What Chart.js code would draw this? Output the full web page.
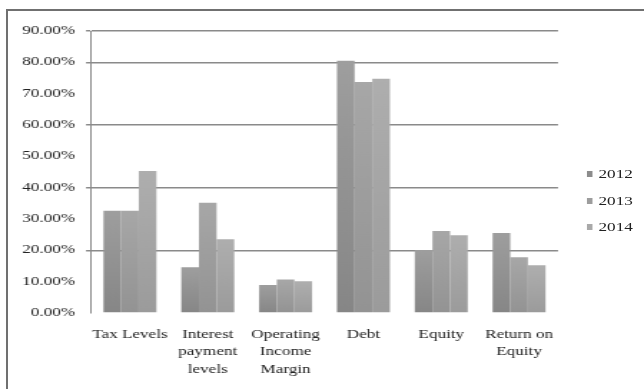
<!DOCTYPE html>
<html>
<head>
<meta charset="utf-8">
<script src="https://cdn.jsdelivr.net/npm/chart.js@4/dist/chart.umd.min.js"></script>
<style>
  html, body { margin: 0; padding: 0; background: #fff; overflow: hidden; }
  body { width: 644px; height: 389px; position: relative; }
  #frame {
    position: absolute; left: 6px; top: 9px; width: 700px; height: 450px;
    border-left: 2px solid #707070; border-top: 2px solid #707070;
  }
  /* the chart is laid out narrow and widened to the full frame */
  #stage {
    position: absolute; left: 0; top: 0; width: 450px; height: 389px;
    transform: scaleX(1.4311); transform-origin: 0 0;
  }
  #chart { position: absolute; left: 0; top: 0; }
  #legend { position: absolute; left: 410px; top: 0; font: 12px "Liberation Serif", "Times New Roman", serif; color: #222; }
  #legend .item { position: absolute; left: 0; white-space: nowrap; height: 16px; line-height: 16px; }
  #legend .box { display: inline-block; width: 4.2px; height: 6px; margin-right: 4px; vertical-align: 1px; }
</style>
</head>
<body>
<div id="frame"></div>
<div id="stage">
  <canvas id="chart" width="450" height="389" style="width:450px;height:389px"></canvas>
  <div id="legend"></div>
</div>
<script>
// Category labels (multi-line) and yearly series, in percent
const categories = [
  ['Tax Levels'],
  ['Interest', 'payment', 'levels'],
  ['Operating', 'Income', 'Margin'],
  ['Debt'],
  ['Equity'],
  ['Return on', 'Equity']
];
const years = ['2012', '2013', '2014'];
const values2012 = [32.6, 14.6, 8.9, 80.5, 20.1, 25.5];
const values2013 = [32.6, 35.2, 10.7, 73.7, 26.2, 17.8];
const values2014 = [45.3, 23.5, 10.1, 74.8, 24.8, 15.2];
const yTicks = [0, 10, 20, 30, 40, 50, 60, 70, 80, 90];
const griddedTicks = [20, 40, 60, 80, 90];

const seriesValues = [values2012, values2013, values2014];
const seriesShades = [
  { top: '#9e9e9e', bottom: '#868686', legend: '#8c8c8c' },
  { top: '#a7a7a7', bottom: '#939393', legend: '#9d9d9d' },
  { top: '#aeaeae', bottom: '#9b9b9b', legend: '#a9a9a9' }
];

// vertical shading for each bar, lighter at the top
function barShade(shade) {
  return (ctx) => {
    const chart = ctx.chart;
    const y = chart.scales && chart.scales.y;
    if (!chart.chartArea || !y || ctx.raw == null) return shade.bottom;
    const top = y.getPixelForValue(ctx.raw);
    const bottom = y.getPixelForValue(0);
    if (!isFinite(top) || !isFinite(bottom) || top === bottom) return shade.bottom;
    const g = chart.ctx.createLinearGradient(0, bottom, 0, top);
    g.addColorStop(0, shade.bottom);
    g.addColorStop(1, shade.top);
    return g;
  };
}

const serif = { family: '"Liberation Serif", "Times New Roman", serif', size: 12 };

new Chart(document.getElementById('chart'), {
  type: 'bar',
  data: {
    labels: categories,
    datasets: years.map((yr, i) => ({
      label: yr,
      data: seriesValues[i],
      backgroundColor: barShade(seriesShades[i]),
      borderWidth: 0,
      categoryPercentage: 0.68,
      barPercentage: 1.0
    }))
  },
  options: {
    responsive: false,
    animation: false,
    devicePixelRatio: 1,
    layout: { padding: { top: 31, right: 60.1, bottom: 0, left: 0 } },
    plugins: { legend: { display: false }, tooltip: { enabled: false } },
    scales: {
      x: {
        grid: { display: false },
        border: { display: false },
        ticks: {
          font: Object.assign({ lineHeight: 1.46 }, serif),
          color: '#222',
          padding: 5,
          maxRotation: 0,
          autoSkip: false
        },
        afterFit: (scale) => { scale.height = 76; }
      },
      y: {
        min: 0,
        max: 90,
        afterBuildTicks: (scale) => { scale.ticks = yTicks.map(v => ({ value: v })); },
        ticks: {
          font: serif,
          color: '#222',
          padding: 7.7,
          callback: (v) => Number(v).toFixed(2) + '%'
        },
        grid: {
          tickLength: 3.5,
          lineWidth: 1.5,
          color: (ctx) => (ctx.tick && griddedTicks.includes(ctx.tick.value)) ? '#8a8a8a' : 'rgba(0,0,0,0)'
        },
        border: { display: true, color: '#8a8a8a', width: 1 },
        afterFit: (scale) => { scale.width = 63.6; }
      }
    }
  }
});

// legend built from the same series
const legend = document.getElementById('legend');
years.forEach((yr, i) => {
  const item = document.createElement('div');
  item.className = 'item';
  item.style.top = (174 + i * 26.5 - 8) + 'px';
  const box = document.createElement('span');
  box.className = 'box';
  box.style.background = seriesShades[i].legend;
  item.appendChild(box);
  item.appendChild(document.createTextNode(yr));
  legend.appendChild(item);
});
</script>
</body>
</html>
